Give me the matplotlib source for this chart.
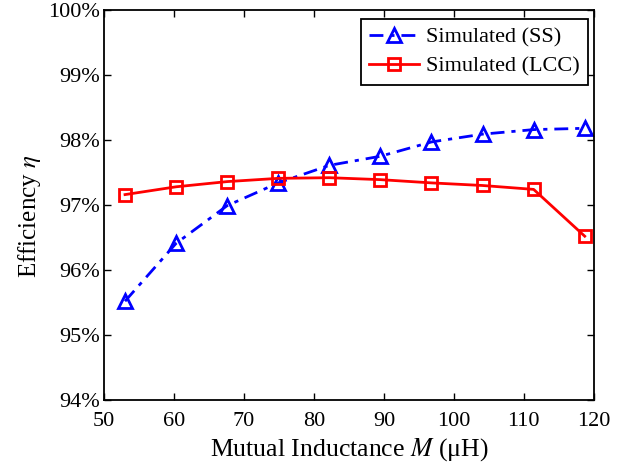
import matplotlib
matplotlib.use('Agg')
import matplotlib.pyplot as plt
from matplotlib.ticker import FuncFormatter

plt.rcParams['font.family'] = ['Liberation Serif', 'DejaVu Serif']
plt.rcParams['mathtext.fontset'] = 'stix'

# Data
mutual_inductance = [53.0, 60.3, 67.6, 74.9, 82.2, 89.5, 96.8, 104.1, 111.4, 118.7]
eff_ss = [95.52, 96.41, 96.99, 97.34, 97.61, 97.75, 97.97, 98.09, 98.16, 98.18]
eff_lcc = [97.16, 97.28, 97.36, 97.41, 97.42, 97.39, 97.34, 97.30, 97.24, 96.52]

x_ticks = [50, 60, 70, 80, 90, 100, 110, 120]
y_ticks = [94, 95, 96, 97, 98, 99, 100]

fig = plt.figure(figsize=(6.32, 4.65), dpi=100)
ax = fig.add_axes([0.1646, 0.1398, 0.775, 0.8387])

ax.plot(mutual_inductance, eff_ss, '-.', color='blue', lw=2, marker='^', ms=10,
        mfc='none', mew=2, dashes=(5, 2.5, 1.5, 2.5), label='Simulated (SS)')
ax.plot(mutual_inductance, eff_lcc, '-', color='red', lw=2, marker='s', ms=8,
        mfc='none', mew=2, label='Simulated (LCC)')

ax.set_xlim(50, 120)
ax.set_ylim(94, 100)
ax.set_xticks(x_ticks)
ax.set_yticks(y_ticks)
ax.yaxis.set_major_formatter(FuncFormatter(lambda v, p: f'{v:.0f}%'))
ax.tick_params(direction='in', top=True, right=True, labelsize=16, length=5, width=1)
ax.tick_params(axis='x', pad=9)
ax.tick_params(axis='y', pad=3)
for s in ax.spines.values():
    s.set_linewidth(1.3)

ax.set_xlabel('Mutual Inductance $M$ (μH)', fontsize=18.5, labelpad=3)
ax.set_ylabel('Efficiency $\\eta$', fontsize=18)
ax.yaxis.set_label_coords(-0.125, 0.472)

leg = ax.legend(loc='upper right', bbox_to_anchor=(0.988, 0.977), borderaxespad=0,
                fontsize=16, frameon=True, fancybox=False, edgecolor='black',
                framealpha=1, handlelength=2.25, borderpad=0.35, labelspacing=0.4,
                handletextpad=0.35)
leg.get_frame().set_linewidth(1.3)

plt.savefig('out.png', dpi=100)
